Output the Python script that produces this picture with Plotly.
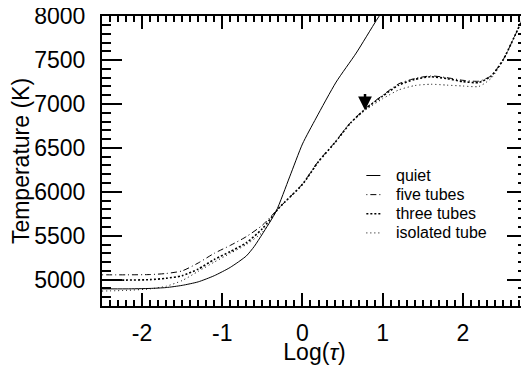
import plotly.graph_objects as go

# Log(tau) / temperature profiles
quiet_x = [-2.5, -2.2, -1.9, -1.7, -1.5, -1.3, -1.1, -0.9, -0.7, -0.6, -0.5, -0.33, -0.16, 0.0, 0.17, 0.42, 0.67, 0.92, 1.0]
quiet_t = [4895, 4895, 4900, 4910, 4935, 4975, 5045, 5140, 5270, 5380, 5520, 5775, 6170, 6545, 6840, 7250, 7580, 7950, 8060]

tubes_x = [-2.5, -2.2, -1.9, -1.7, -1.5, -1.3, -1.1, -0.9, -0.7, -0.5, -0.3, 0.0, 0.2, 0.4, 0.6, 0.8,
           1.0, 1.2, 1.4, 1.6, 1.8, 2.0, 2.2, 2.35, 2.5, 2.65, 2.8]
five_t = [5055, 5055, 5058, 5070, 5100, 5190, 5300, 5390, 5490, 5620, 5810, 6090, 6350, 6560, 6790, 6960,
          7100, 7230, 7290, 7320, 7300, 7270, 7260, 7320, 7500, 7780, 8080]
three_t = [4995, 4995, 5000, 5015, 5045, 5120, 5230, 5320, 5420, 5580, 5810, 6085, 6345, 6555, 6785, 6955,
           7090, 7215, 7280, 7310, 7290, 7255, 7245, 7315, 7500, 7780, 8080]
isolated_t = [4870, 4878, 4895, 4925, 4990, 5095, 5200, 5300, 5400, 5540, 5805, 6080, 6340, 6550, 6780, 6940,
              7060, 7160, 7210, 7225, 7215, 7205, 7200, 7290, 7490, 7780, 8080]

x_ticks = [-2, -1, 0, 1, 2]
x_labels = ["-2", "-1", "0", "1", "2"]
y_ticks = [5000, 5500, 6000, 6500, 7000, 7500, 8000]

# arrow marking the tube profiles
arrow_x = 0.78
arrow_t = 6930

FONT = "Liberation Sans, Arial, Helvetica, sans-serif"

series = [
    ("quiet", quiet_x, quiet_t, dict(width=1, dash="solid")),
    ("five tubes", tubes_x, five_t, dict(width=1, dash="1px,3px,6px,3px")),
    ("three tubes", tubes_x, three_t, dict(width=1.6, dash="2px,2px")),
    ("isolated tube", tubes_x, isolated_t, dict(width=1, dash="1px,3px")),
]

fig = go.Figure()
for name, xs, ts, style in series:
    fig.add_trace(go.Scatter(x=xs, y=ts, name=name, mode="lines", showlegend=False,
                             line=dict(color="black", shape="spline", smoothing=0.6, **style)))

# hand-drawn legend, like the original figure
for i, (name, xs, ts, style) in enumerate(series):
    ly = 0.45 - i * 0.066
    fig.add_shape(type="line", xref="paper", yref="paper", x0=0.622, x1=0.655, y0=ly, y1=ly,
                  line=dict(color="black", **style))
    fig.add_annotation(xref="paper", yref="paper", x=0.688, y=ly, text=name, showarrow=False,
                       xanchor="left", yanchor="middle",
                       font=dict(size=16, color="black", family=FONT))

fig.add_annotation(x=arrow_x, y=arrow_t, ax=arrow_x, ay=arrow_t + 200,
                   xref="x", yref="y", axref="x", ayref="y", text="",
                   showarrow=True, arrowhead=2, arrowsize=1.1, arrowwidth=2.5,
                   arrowcolor="black")

axis_common = dict(showgrid=False, zeroline=False, showline=True, linecolor="black",
                   linewidth=2, mirror="allticks", ticks="inside", tickcolor="black",
                   tickwidth=2, automargin=False, ticklabeloverflow="allow",
                   tickfont=dict(size=23, color="black", family=FONT))

fig.update_xaxes(range=[-2.5, 2.8], tickvals=x_ticks, ticktext=x_labels, ticklen=13,
                 ticklabelstandoff=5,
                 minor=dict(dtick=0.1, ticks="inside", ticklen=6, tickwidth=1.5, tickcolor="black"),
                 title=dict(text="Log(<i>τ</i>)", font=dict(size=23, color="black", family=FONT),
                            standoff=0),
                 **axis_common)
fig.update_yaxes(range=[4700, 8002], tickvals=y_ticks, ticklen=20, ticklabelstandoff=10,
                 minor=dict(dtick=100, ticks="inside", ticklen=9, tickwidth=1.5, tickcolor="black"),
                 title=dict(text="Temperature (K)", font=dict(size=23, color="black", family=FONT),
                            standoff=15),
                 **axis_common)

# the page body has an 8px margin, so the figure is 8px smaller than the window;
# top margin leaves room for the "8000" label
fig.update_layout(
    width=521, height=357,
    margin=dict(l=94, r=2, t=8, b=59),
    paper_bgcolor="white", plot_bgcolor="white",
    font=dict(family=FONT, color="black"),
    showlegend=False,
)

fig.write_html("out.html")
